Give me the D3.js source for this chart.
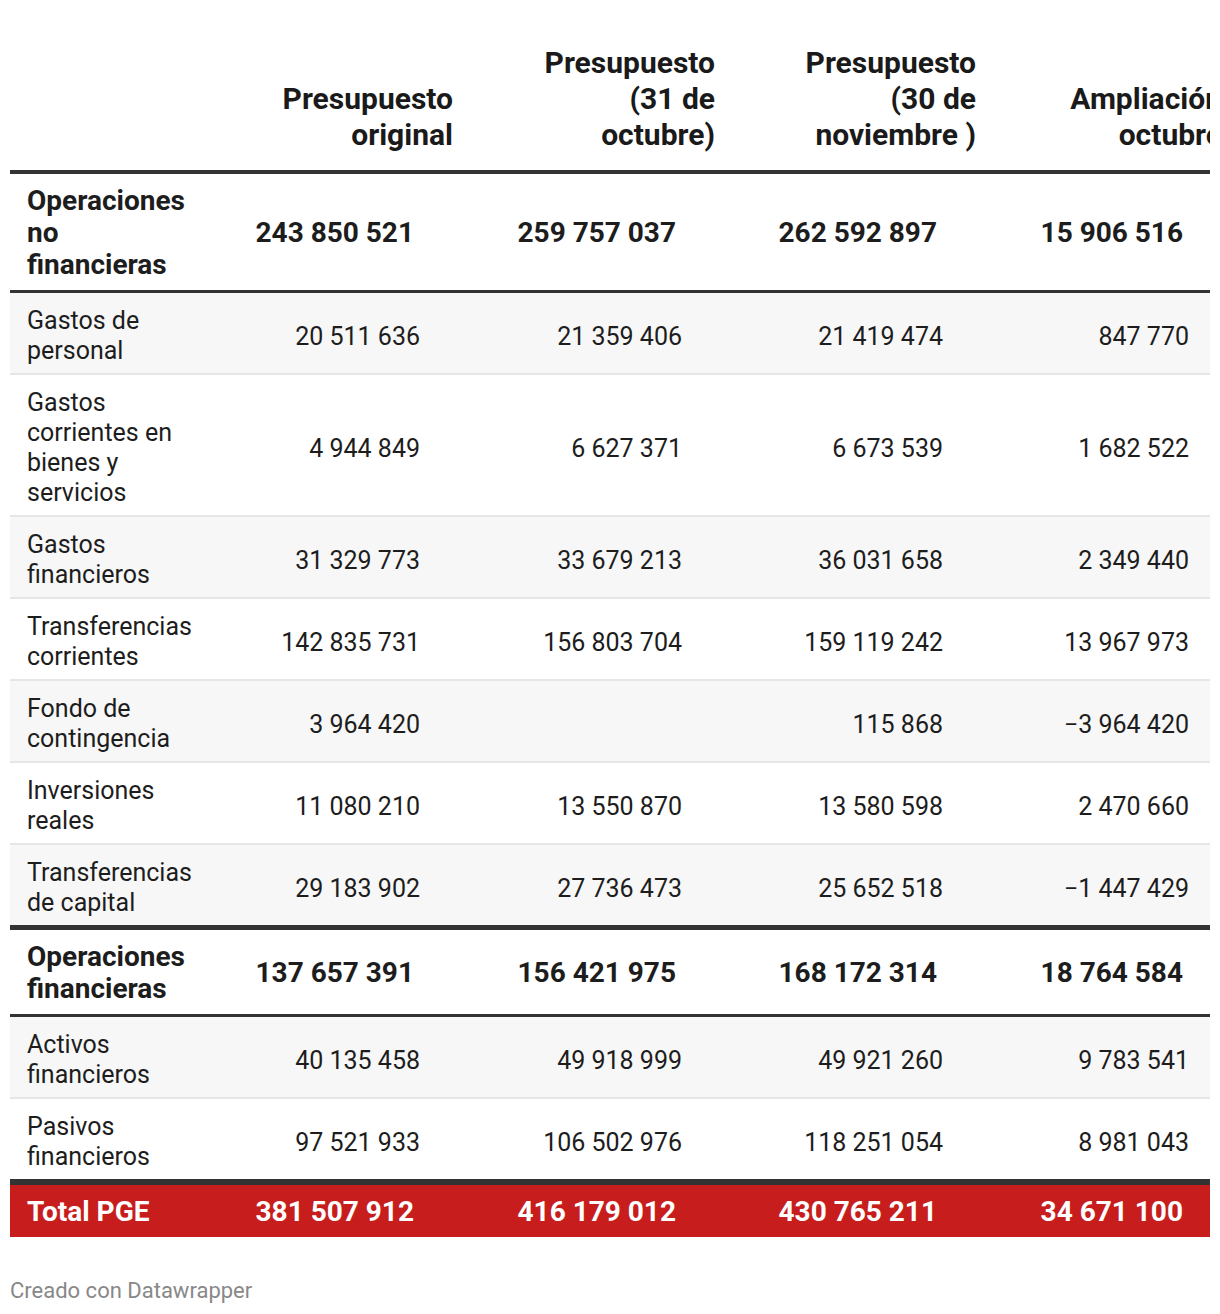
<!DOCTYPE html>
<html><head><meta charset="utf-8">
<script src="https://cdn.jsdelivr.net/npm/d3@7"></script>
<style>
html,body{margin:0;padding:0;background:#fff;}
svg{display:block;font-family:Roboto, "Noto Sans", sans-serif;}
</style></head><body>
<svg id="chart" width="1220" height="1314"></svg>
<script>
// ---------- data ----------
const columns = ["Presupuesto\noriginal", "Presupuesto\n(31 de\noctubre)", "Presupuesto\n(30 de\nnoviembre )", "Ampliación\noctubre"];
const categories = [
  "Operaciones\nno\nfinancieras",
  "Gastos de\npersonal",
  "Gastos\ncorrientes en\nbienes y\nservicios",
  "Gastos\nfinancieros",
  "Transferencias\ncorrientes",
  "Fondo de\ncontingencia",
  "Inversiones\nreales",
  "Transferencias\nde capital",
  "Operaciones\nfinancieras",
  "Activos\nfinancieros",
  "Pasivos\nfinancieros",
  "Total PGE"
];
const rowKinds = ["group","item","item","item","item","item","item","item","group","item","item","total"];
const presupuestoOriginal = [243850521, 20511636, 4944849, 31329773, 142835731, 3964420, 11080210, 29183902, 137657391, 40135458, 97521933, 381507912];
const presupuesto31Oct   = [259757037, 21359406, 6627371, 33679213, 156803704, null, 13550870, 27736473, 156421975, 49918999, 106502976, 416179012];
const presupuesto30Nov   = [262592897, 21419474, 6673539, 36031658, 159119242, 115868, 13580598, 25652518, 168172314, 49921260, 118251054, 430765211];
const ampliacionOctubre  = [15906516, 847770, 1682522, 2349440, 13967973, -3964420, 2470660, -1447429, 18764584, 9783541, 8981043, 34671100];
const footer = "Creado con Datawrapper";

// ---------- layout ----------
const series = [presupuestoOriginal, presupuesto31Oct, presupuesto30Nov, ampliacionOctubre];
const locale = d3.formatLocale({decimal: ",", thousands: "\u00a0", grouping: [3], currency: ["", " €"], minus: "\u2212"});
const fmt = locale.format(",d");

const svg = d3.select("#chart");
const X0 = 10, X1 = 1210, LABEL_X = 27;
const DARK = "#333333", LIGHT = "#e6e6e6", STRIPE = "#f7f7f7", RED = "#c71e1d", TXT = "#1d1d1d";
const FS_HEAD = 30, FS_BOLD = 28, FS_NORM = 25;

svg.append("defs").append("clipPath").attr("id", "clip")
  .append("rect").attr("x", X0).attr("y", 0).attr("width", X1 - X0).attr("height", 1314);
const g = svg.append("g").attr("clip-path", "url(#clip)");

const colRight = d3.scaleOrdinal().domain(d3.range(columns.length)).range([453, 715, 976, 1222]);

// header
const HEADER_LAST_BASELINE = 145, HEADER_LH = 36;
columns.forEach((c, i) => {
  const lines = c.split("\n");
  const t = g.append("text").attr("text-anchor", "end").attr("font-weight", 700)
    .attr("font-size", FS_HEAD).attr("fill", "#1a1a1a");
  lines.forEach((ln, k) => {
    t.append("tspan").attr("x", colRight(i))
      .attr("y", HEADER_LAST_BASELINE - (lines.length - 1 - k) * HEADER_LH).text(ln);
  });
});

// rows geometry
let y = 170;
const rows = [];
const seps = [];
seps.push({y: y, h: 4, c: DARK}); y += 4;
categories.forEach((cat, i) => {
  const kind = rowKinds[i];
  const n = cat.split("\n").length;
  let h;
  if (kind === "group") h = n * 32 + 20;
  else if (kind === "item") h = n * 30 + 20;
  else h = 52;
  rows.push({i, cat, kind, n, top: y, h});
  y += h;
  const next = rowKinds[i + 1];
  if (next === undefined) return;
  let sep;
  if (next === "total") sep = {h: 6, c: DARK};
  else if (next === "group") sep = {h: 5, c: DARK};
  else if (kind === "group") sep = {h: 3, c: DARK};
  else sep = {h: 2, c: LIGHT};
  seps.push({y: y, h: sep.h, c: sep.c});
  y += sep.h;
});

// stripes
let itemIdx = 0;
rows.forEach(r => {
  if (r.kind === "group") { itemIdx = 0; return; }
  if (r.kind === "item") {
    if (itemIdx % 2 === 0) {
      g.append("rect").attr("x", X0).attr("y", r.top).attr("width", X1 - X0).attr("height", r.h).attr("fill", STRIPE);
    }
    itemIdx++;
  }
  if (r.kind === "total") {
    g.append("rect").attr("x", X0).attr("y", r.top).attr("width", X1 - X0).attr("height", r.h).attr("fill", RED);
  }
});

g.selectAll("rect.sep").data(seps).join("rect").attr("class", "sep")
  .attr("x", X0).attr("width", X1 - X0).attr("y", d => d.y).attr("height", d => d.h).attr("fill", d => d.c);

// row texts
rows.forEach(r => {
  const bold = r.kind !== "item";
  const fs = bold ? FS_BOLD : FS_NORM;
  const lh = r.kind === "group" ? 32 : 30;
  const color = r.kind === "total" ? "#ffffff" : TXT;
  const lines = r.cat.split("\n");
  const center = r.top + r.h / 2;
  const firstCenter = center - (lines.length - 1) * lh / 2;
  const t = g.append("text").attr("font-size", fs).attr("font-weight", bold ? 700 : 400).attr("fill", color);
  lines.forEach((ln, k) => {
    t.append("tspan").attr("x", LABEL_X).attr("y", firstCenter + k * lh + (bold ? 10 : 10.5)).text(ln);
  });
  series.forEach((s, j) => {
    const v = s[r.i];
    if (v === null || v === undefined) return;
    g.append("text").attr("text-anchor", "end")
      .attr("x", colRight(j) - (bold ? 39 : 33))
      .attr("y", center + (bold ? 10 : 11.5))
      .attr("font-size", fs).attr("font-weight", bold ? 700 : 400).attr("fill", color)
      .text(fmt(v));
  });
});

// footer
svg.append("text").attr("x", 10).attr("y", 1298).attr("font-size", 22).attr("fill", "#888888").text(footer);
</script>
</body></html>
